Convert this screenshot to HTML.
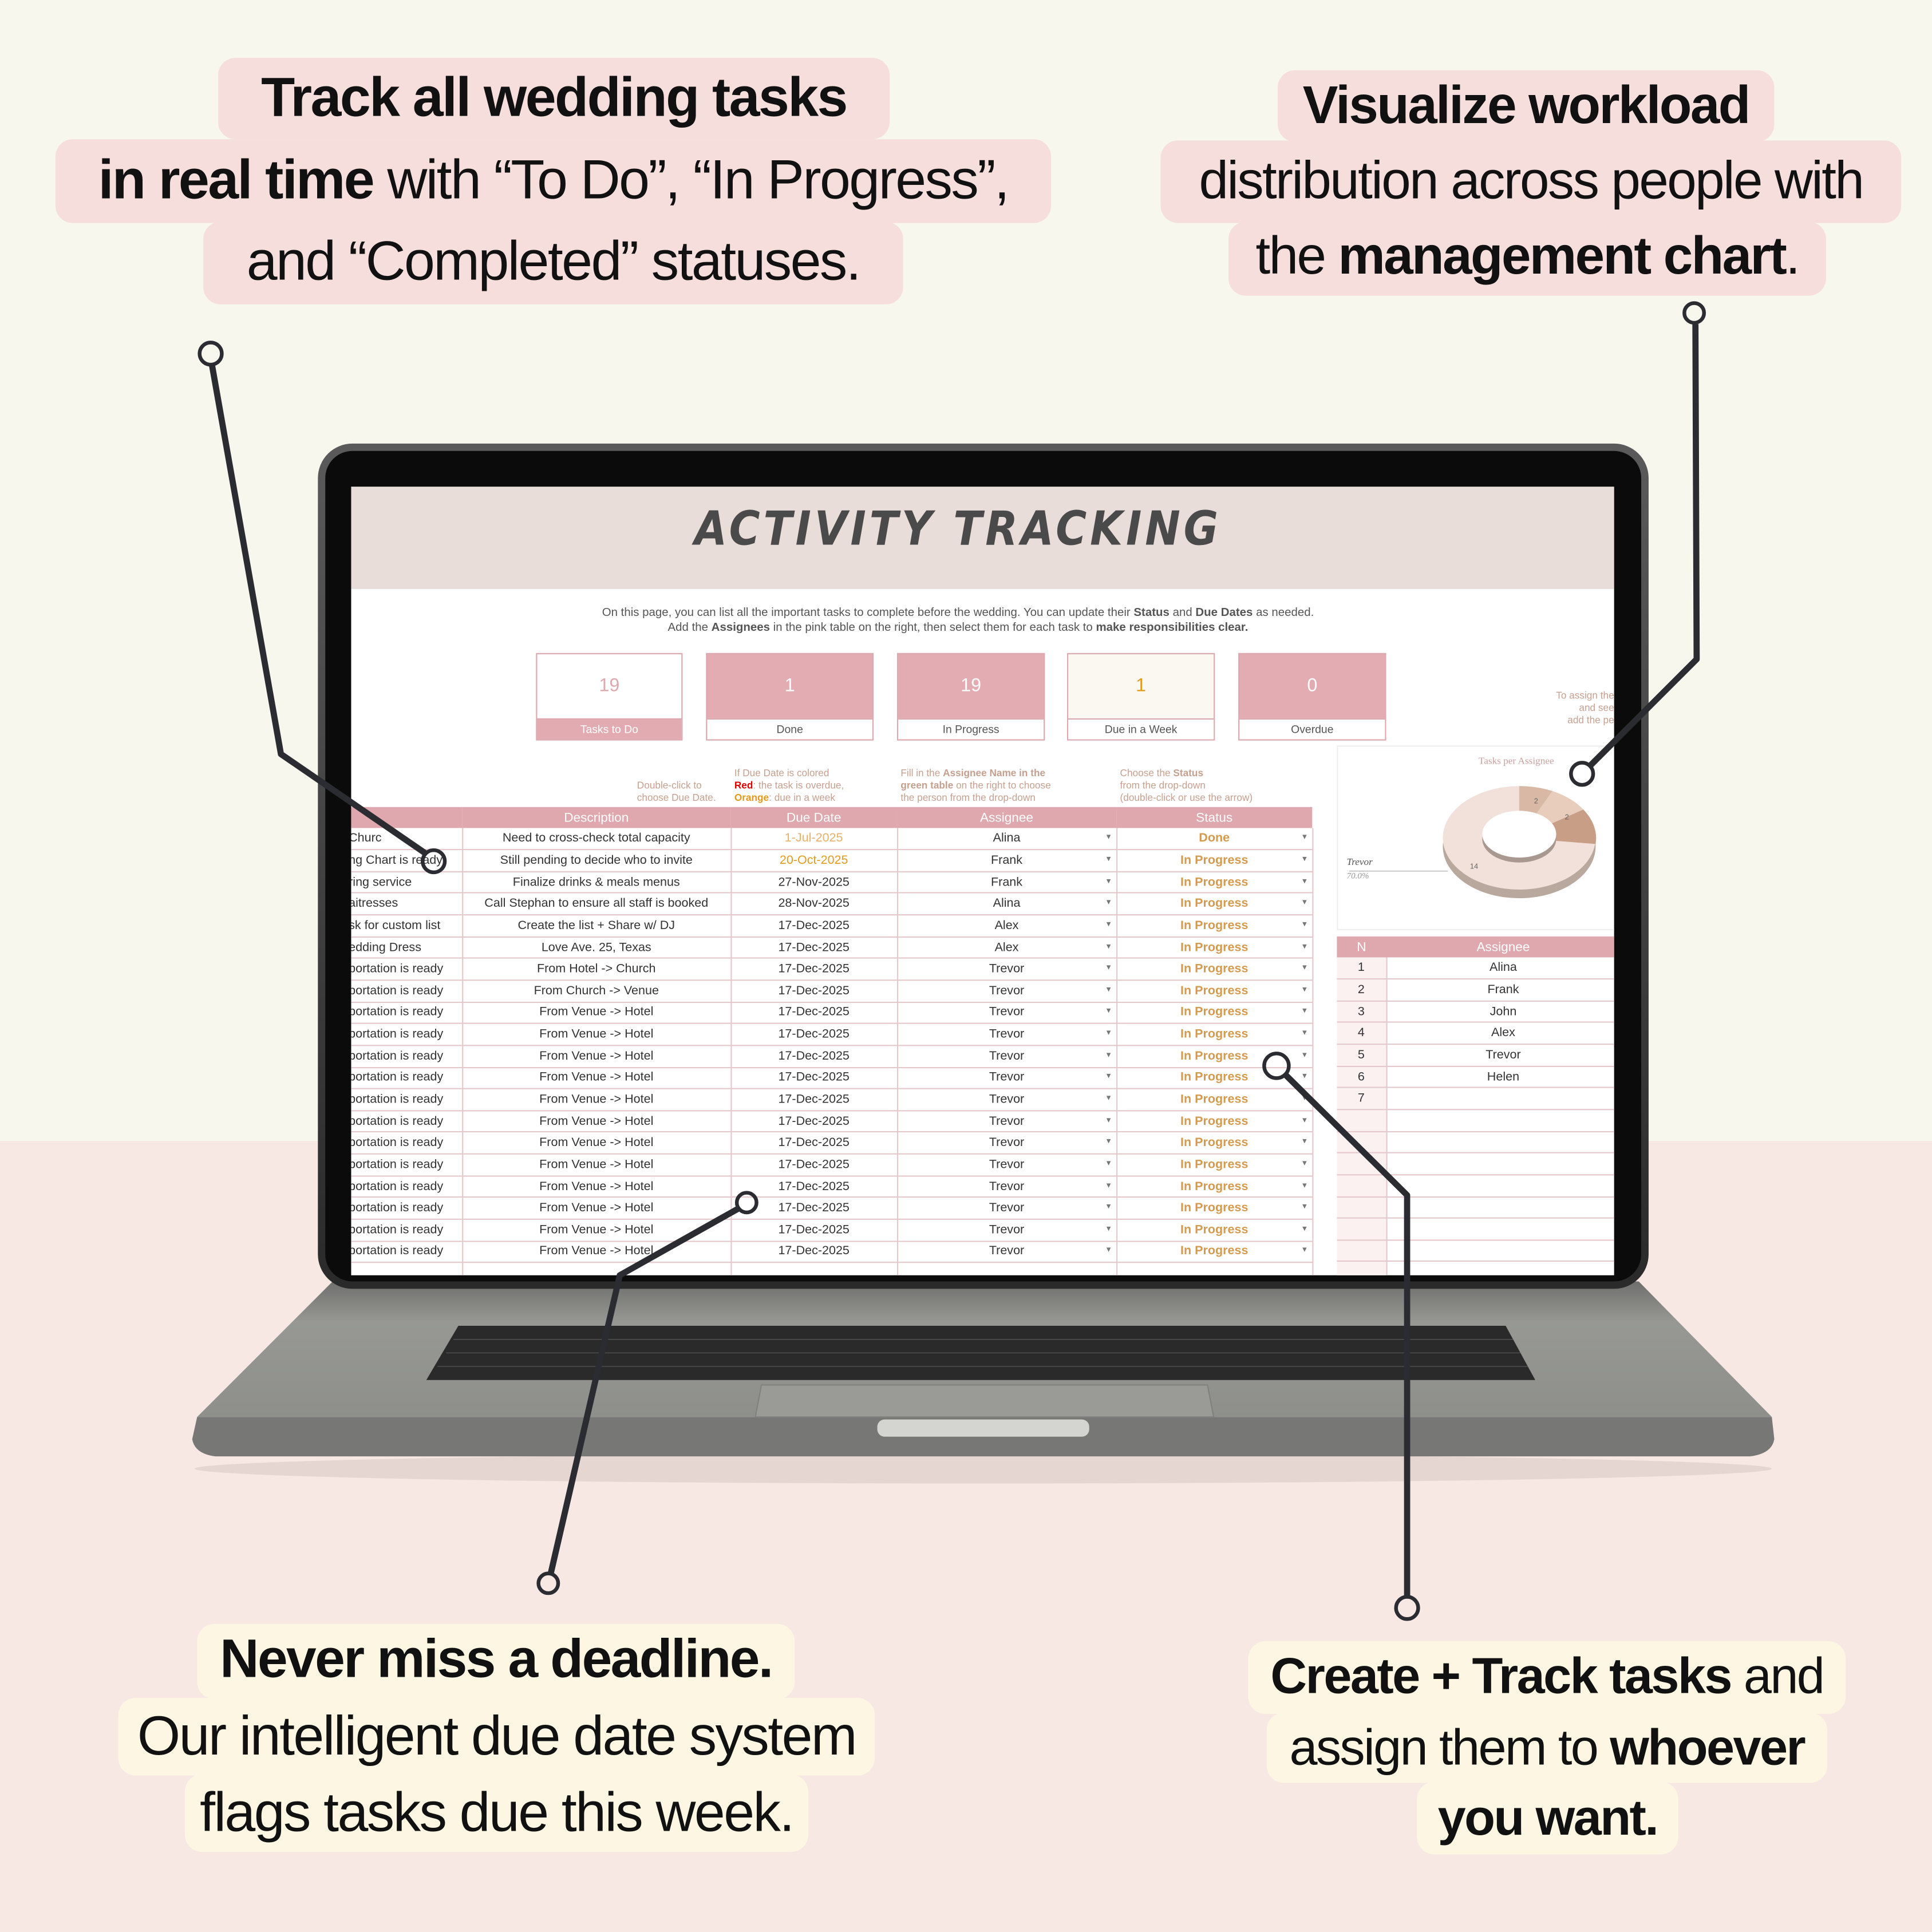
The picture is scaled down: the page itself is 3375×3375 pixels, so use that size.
<!DOCTYPE html>
<html><head><meta charset="utf-8"><style>
*{margin:0;padding:0;box-sizing:border-box}
body{width:3375px;height:3375px;overflow:hidden;background:#f7e8e4}
#s{position:absolute;left:0;top:0;width:1568px;height:1568px;transform:scale(2.15242);transform-origin:0 0;font-family:"Liberation Sans",sans-serif;overflow:hidden}
.a{position:absolute}
.h{position:absolute;border-radius:14px;white-space:nowrap;text-align:center;color:#111;letter-spacing:-1.2px;font-size:45px;line-height:1}
.h b{letter-spacing:-1.2px;font-size:1.0em}
.pk{background:#f5dedc}.cr{background:#fdf6e3}
b{font-weight:bold}
.kb{position:absolute;border:1px solid #dba9af;text-align:center;font-size:11px;color:#fff}
.kb .n{height:52px;line-height:52px;font-size:15px}
.kb .l{height:17px;line-height:17px;font-size:9px;color:#555;background:#fff;border-top:1px solid #dba9af}
table{border-collapse:collapse;table-layout:fixed;font-size:10px;color:#333}
td{height:17.65px;border:1px solid #e4c8cb;border-top:none;border-left:none;white-space:nowrap;overflow:hidden;text-align:center;padding:0 2px}
th{height:17px;background:#dea8ae;color:#fff;font-weight:normal;font-size:10.5px}
.st{color:#d49a4e;font-weight:bold;position:relative}
.st:after,.as:after{content:"▾";position:absolute;right:4px;font-size:7px;color:#777;font-weight:normal}
.as{position:relative}
.o{color:#e49b1b}
.note{position:absolute;font-size:8px;color:#c6a08f;line-height:10px}
</style></head><body><div id="s">
<div class="a" style="left:0;top:0;width:1568px;height:926px;background:#f8f7ee"></div>

<div class="h pk" style="left:177px;top:47px;width:545px;height:66px;line-height:64px"><b>Track all wedding tasks</b></div>
<div class="h pk" style="left:45px;top:113px;width:808px;height:68px;line-height:66px"><b>in real time</b> with “To Do”, “In Progress”,</div>
<div class="h pk" style="left:165px;top:180px;width:568px;height:67px;line-height:64px">and “Completed” statuses.</div>

<div class="h pk" style="left:1037px;top:57px;width:403px;height:58px;line-height:58px;font-size:43px"><b>Visualize workload</b></div>
<div class="h pk" style="left:942px;top:114px;width:601px;height:67px;line-height:66px;font-size:43px">distribution across people with</div>
<div class="h pk" style="left:997px;top:180px;width:485px;height:60px;line-height:56px;font-size:43px">the <b>management chart</b>.</div>

<div class="h cr" style="left:160px;top:1318px;width:485px;height:61px;line-height:58px;font-size:44px"><b>Never miss a deadline.</b></div>
<div class="h cr" style="left:96px;top:1378px;width:614px;height:63px;line-height:62px">Our intelligent due date system</div>
<div class="h cr" style="left:150px;top:1440px;width:506px;height:63px;line-height:62px">flags tasks due this week.</div>

<div class="h cr" style="left:1013px;top:1332px;width:485px;height:59px;line-height:56px;font-size:41px"><b>Create + Track tasks</b> and</div>
<div class="h cr" style="left:1028px;top:1390px;width:455px;height:57px;line-height:56px;font-size:41px">assign them to <b>whoever</b></div>
<div class="h cr" style="left:1150px;top:1446px;width:212px;height:59px;line-height:58px;font-size:41px"><b>you want.</b></div>

<svg class="a" style="left:0;top:0" width="1568" height="1568">
<defs>
<linearGradient id="bg1" x1="0" y1="0" x2="0" y2="1"><stop offset="0" stop-color="#6f706d"/><stop offset="0.3" stop-color="#979894"/><stop offset="1" stop-color="#8e8f8b"/></linearGradient>
<linearGradient id="bz" x1="0" y1="0" x2="0" y2="1"><stop offset="0" stop-color="#5a5a5a"/><stop offset="1" stop-color="#2a2a2a"/></linearGradient>
</defs>
<ellipse cx="798" cy="1192" rx="640" ry="12" fill="#d9c9c4" opacity="0.6"/>
<path d="M160 1150 L1438 1150 L1440 1168 Q1438 1180 1420 1182 L175 1182 Q158 1180 156 1168 Z" fill="#777875"/>
<path d="M270 1040 L1330 1040 L1438 1150 L160 1150 Z" fill="url(#bg1)"/>
<path d="M372 1076 L1222 1076 L1246 1120 L346 1120 Z" fill="#2a2a2a"/>
<g stroke="#555" stroke-width="0.6">
<line x1="368" y1="1087" x2="1228" y2="1087"/><line x1="362" y1="1098" x2="1234" y2="1098"/><line x1="355" y1="1109" x2="1240" y2="1109"/>
</g>
<path d="M618 1124 L980 1124 L985 1150 L613 1150 Z" fill="#9a9b97" stroke="#80817e" stroke-width="1"/>
<rect x="712" y="1152" width="172" height="14" rx="6" fill="#d4d4d0"/>
<rect x="258" y="360" width="1080" height="686" rx="28" fill="url(#bz)"/>
<rect x="264" y="366" width="1068" height="674" rx="22" fill="#0b0b0b"/>
</svg>

<div class="a" style="left:285px;top:395px;width:1025px;height:640px;background:#fff;overflow:hidden">
 <div class="a" style="left:0;top:0;width:1025px;height:83px;background:#e8ddd8"></div>
 <div class="a" style="left:0;top:12px;width:985px;text-align:center;font-family:'DejaVu Sans',sans-serif;font-style:italic;font-weight:bold;font-size:38px;color:#4a4a4a;letter-spacing:3px;transform:scaleX(0.9)">ACTIVITY TRACKING</div>
 <div class="a" style="left:0;top:97px;width:985px;text-align:center;font-size:9.5px;color:#555;line-height:12px">On this page, you can list all the important tasks to complete before the wedding. You can update their <b>Status</b> and <b>Due Dates</b> as needed.<br>Add the <b>Assignees</b> in the pink table on the right, then select them for each task to <b>make responsibilities clear.</b></div>
 <div class="kb" style="left:150px;top:135px;width:119px;height:71px;background:#fff"><div class="n" style="color:#dea8ae">19</div><div class="l" style="background:#e2abb1;color:#fff">Tasks to Do</div></div>
 <div class="kb" style="left:288px;top:135px;width:136px;height:71px;background:#e3acb2"><div class="n">1</div><div class="l">Done</div></div>
 <div class="kb" style="left:443px;top:135px;width:120px;height:71px;background:#e3acb2"><div class="n">19</div><div class="l">In Progress</div></div>
 <div class="kb" style="left:581px;top:135px;width:120px;height:71px;background:#fbf8f2"><div class="n" style="color:#e49b1b">1</div><div class="l">Due in a Week</div></div>
 <div class="kb" style="left:720px;top:135px;width:120px;height:71px;background:#e3acb2"><div class="n">0</div><div class="l">Overdue</div></div>
 <div class="note" style="left:232px;top:238px">Double-click to<br>choose Due Date.</div>
 <div class="note" style="left:311px;top:228px">If Due Date is colored<br><b style="color:#d00">Red</b>: the task is overdue,<br><b class="o">Orange</b>: due in a week</div>
 <div class="note" style="left:446px;top:228px">Fill in the <b>Assignee Name in the<br>green table</b> on the right to choose<br>the person from the drop-down</div>
 <div class="note" style="left:624px;top:228px">Choose the <b>Status</b><br>from the drop-down<br>(double-click or use the arrow)</div>
 <div class="note" style="left:960px;top:165px;text-align:right;width:65px">To assign the<br>and see<br>add the pe</div>
 <div class="a" style="left:800px;top:210px;width:230px;height:150px;border:1px solid #eee"></div>
 <div class="a" style="left:915px;top:218px;font-size:8px;color:#c9a0a0;font-family:'Liberation Serif',serif">Tasks per Assignee</div>
 <svg class="a" style="left:800px;top:240px" width="225" height="120">
  <ellipse cx="148" cy="52" rx="62" ry="42" fill="#b8a89e"/>
  <ellipse cx="148" cy="45" rx="62" ry="42" fill="#f1e1da"/>
  <path d="M148 45 L148 3 A62 42 0 0 1 175 7 Z" fill="#d9b9a6"/>
  <path d="M148 45 L175 7 A62 42 0 0 1 200 22 Z" fill="#e8cdbd"/>
  <path d="M148 45 L200 22 A62 42 0 0 1 210 50 Z" fill="#c99e86"/>
  <ellipse cx="148" cy="46" rx="30" ry="19" fill="#a89890"/>
  <ellipse cx="148" cy="42" rx="30" ry="19" fill="#fff"/>
  <line x1="10" y1="72" x2="90" y2="72" stroke="#999" stroke-width="0.5"/>
  <text x="8" y="67" font-size="8" font-style="italic" font-family="Liberation Serif" fill="#555">Trevor</text>
  <text x="8" y="78" font-size="7" font-style="italic" font-family="Liberation Serif" fill="#999">70.0%</text>
  <text x="108" y="70" font-size="6" fill="#666">14</text>
  <text x="160" y="17" font-size="6" fill="#666">2</text>
  <text x="185" y="30" font-size="6" fill="#666">2</text>
 </svg>
 <table class="a" style="left:-10px;top:260px;width:790px">
 <colgroup><col style="width:100px"><col style="width:218px"><col style="width:135px"><col style="width:178px"><col style="width:159px"></colgroup>
 <tr><th></th><th>Description</th><th>Due Date</th><th>Assignee</th><th>Status</th></tr>
 <tr><td style="text-align:left;padding-left:8px">Churc</td><td>Need to cross-check total capacity</td><td style="color:#e8b06a">1-Jul-2025</td><td class="as">Alina</td><td class="st">Done</td></tr>
 <tr><td style="text-align:left;padding-left:8px">ng Chart is ready</td><td>Still pending to decide who to invite</td><td class="o">20-Oct-2025</td><td class="as">Frank</td><td class="st">In Progress</td></tr>
 <tr><td style="text-align:left;padding-left:8px">ring service</td><td>Finalize drinks &amp; meals menus</td><td>27-Nov-2025</td><td class="as">Frank</td><td class="st">In Progress</td></tr>
 <tr><td style="text-align:left;padding-left:8px">aitresses</td><td>Call Stephan to ensure all staff is booked</td><td>28-Nov-2025</td><td class="as">Alina</td><td class="st">In Progress</td></tr>
 <tr><td style="text-align:left;padding-left:8px">sk for custom list</td><td>Create the list + Share w/ DJ</td><td>17-Dec-2025</td><td class="as">Alex</td><td class="st">In Progress</td></tr>
 <tr><td style="text-align:left;padding-left:8px">edding Dress</td><td>Love Ave. 25, Texas</td><td>17-Dec-2025</td><td class="as">Alex</td><td class="st">In Progress</td></tr>
 <tr><td style="text-align:left;padding-left:8px">portation is ready</td><td>From Hotel -&gt; Church</td><td>17-Dec-2025</td><td class="as">Trevor</td><td class="st">In Progress</td></tr>
 <tr><td style="text-align:left;padding-left:8px">portation is ready</td><td>From Church -&gt; Venue</td><td>17-Dec-2025</td><td class="as">Trevor</td><td class="st">In Progress</td></tr>
 <tr><td style="text-align:left;padding-left:8px">portation is ready</td><td>From Venue -&gt; Hotel</td><td>17-Dec-2025</td><td class="as">Trevor</td><td class="st">In Progress</td></tr>
 <tr><td style="text-align:left;padding-left:8px">portation is ready</td><td>From Venue -&gt; Hotel</td><td>17-Dec-2025</td><td class="as">Trevor</td><td class="st">In Progress</td></tr>
 <tr><td style="text-align:left;padding-left:8px">portation is ready</td><td>From Venue -&gt; Hotel</td><td>17-Dec-2025</td><td class="as">Trevor</td><td class="st">In Progress</td></tr>
 <tr><td style="text-align:left;padding-left:8px">portation is ready</td><td>From Venue -&gt; Hotel</td><td>17-Dec-2025</td><td class="as">Trevor</td><td class="st">In Progress</td></tr>
 <tr><td style="text-align:left;padding-left:8px">portation is ready</td><td>From Venue -&gt; Hotel</td><td>17-Dec-2025</td><td class="as">Trevor</td><td class="st">In Progress</td></tr>
 <tr><td style="text-align:left;padding-left:8px">portation is ready</td><td>From Venue -&gt; Hotel</td><td>17-Dec-2025</td><td class="as">Trevor</td><td class="st">In Progress</td></tr>
 <tr><td style="text-align:left;padding-left:8px">portation is ready</td><td>From Venue -&gt; Hotel</td><td>17-Dec-2025</td><td class="as">Trevor</td><td class="st">In Progress</td></tr>
 <tr><td style="text-align:left;padding-left:8px">portation is ready</td><td>From Venue -&gt; Hotel</td><td>17-Dec-2025</td><td class="as">Trevor</td><td class="st">In Progress</td></tr>
 <tr><td style="text-align:left;padding-left:8px">portation is ready</td><td>From Venue -&gt; Hotel</td><td>17-Dec-2025</td><td class="as">Trevor</td><td class="st">In Progress</td></tr>
 <tr><td style="text-align:left;padding-left:8px">portation is ready</td><td>From Venue -&gt; Hotel</td><td>17-Dec-2025</td><td class="as">Trevor</td><td class="st">In Progress</td></tr>
 <tr><td style="text-align:left;padding-left:8px">portation is ready</td><td>From Venue -&gt; Hotel</td><td>17-Dec-2025</td><td class="as">Trevor</td><td class="st">In Progress</td></tr>
 <tr><td style="text-align:left;padding-left:8px">portation is ready</td><td>From Venue -&gt; Hotel</td><td>17-Dec-2025</td><td class="as">Trevor</td><td class="st">In Progress</td></tr>
 <tr><td></td><td></td><td></td><td class="as"></td><td></td></tr>
 </table>
 <table class="a" style="left:800px;top:365px;width:230px">
 <colgroup><col style="width:40px"><col style="width:190px"></colgroup>
 <tr><th>N</th><th>Assignee</th></tr>
 <tr><td style="background:#fbf1f1">1</td><td>Alina</td></tr>
 <tr><td style="background:#fbf1f1">2</td><td>Frank</td></tr>
 <tr><td style="background:#fbf1f1">3</td><td>John</td></tr>
 <tr><td style="background:#fbf1f1">4</td><td>Alex</td></tr>
 <tr><td style="background:#fbf1f1">5</td><td>Trevor</td></tr>
 <tr><td style="background:#fbf1f1">6</td><td>Helen</td></tr>
 <tr><td style="background:#fbf1f1">7</td><td></td></tr>
 <tr><td style="background:#fbf1f1"></td><td></td></tr>
 <tr><td style="background:#fbf1f1"></td><td></td></tr>
 <tr><td style="background:#fbf1f1"></td><td></td></tr>
 <tr><td style="background:#fbf1f1"></td><td></td></tr>
 <tr><td style="background:#fbf1f1"></td><td></td></tr>
 <tr><td style="background:#fbf1f1"></td><td></td></tr>
 <tr><td style="background:#fbf1f1"></td><td></td></tr>
 <tr><td style="background:#fbf1f1"></td><td></td></tr>
 <tr><td style="background:#fbf1f1"></td><td></td></tr>
 </table>
</div>

<svg class="a" style="left:0;top:0" width="1568" height="1568" fill="none" stroke="#2b2b32" stroke-width="5" stroke-linejoin="round">
<polyline points="172,296 228,612 346,693"/>
<polyline points="1376,263 1377,535 1290,622"/>
<polyline points="447,1277 503,1035 599,981"/>
<polyline points="1142,1296 1142,970 1043,872"/>
<g stroke-width="3">
<circle cx="171" cy="287" r="9"/><circle cx="352" cy="699" r="9"/>
<circle cx="1375" cy="254" r="8"/><circle cx="1284" cy="628" r="9"/>
<circle cx="445" cy="1285" r="8"/><circle cx="606" cy="976" r="8"/>
<circle cx="1142" cy="1305" r="9"/><circle cx="1036" cy="865" r="10"/>
</g>
</svg>
</div></body></html>
